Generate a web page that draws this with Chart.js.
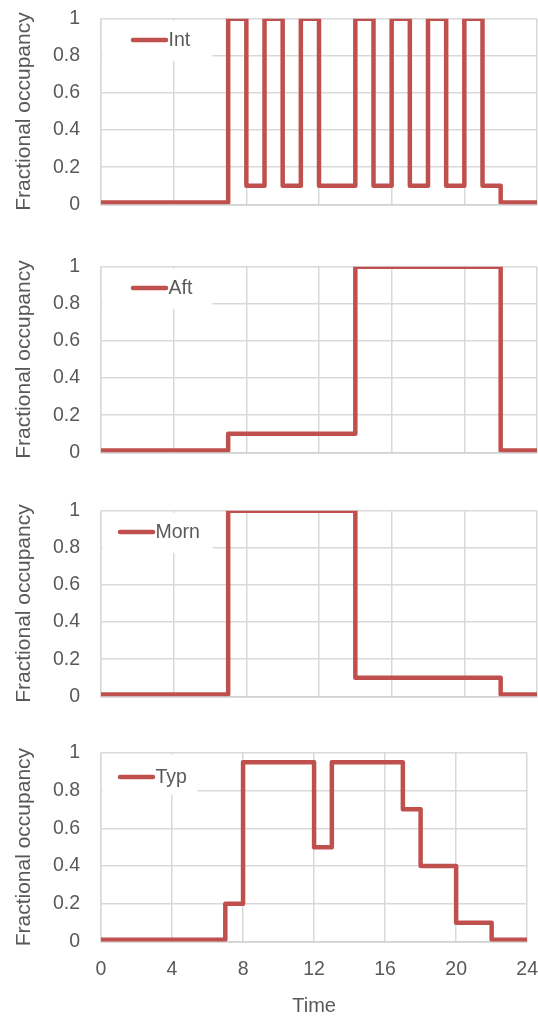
<!DOCTYPE html>
<html><head><meta charset="utf-8">
<script src="https://cdn.jsdelivr.net/npm/chart.js@4/dist/chart.umd.min.js"></script>
<style>
html,body{margin:0;padding:0;background:#fff;}
body{width:538px;height:1018px;position:relative;overflow:hidden;}
.box{position:absolute;left:0;width:538px;}
</style></head><body>
<div class="box" style="top:7px;height:209px"><canvas id="c1"></canvas></div>
<div class="box" style="top:255px;height:209px"><canvas id="c2"></canvas></div>
<div class="box" style="top:499px;height:209px"><canvas id="c3"></canvas></div>
<div class="box" style="top:741px;height:277px"><canvas id="c4"></canvas></div>
<script>
// ---- data ----
const xTicks = [0, 4, 8, 12, 16, 20, 24];
const yTicks = [0, 0.2, 0.4, 0.6, 0.8, 1];
const intTimes  = [0, 7, 8, 9, 10, 11, 12, 14, 15, 16, 17, 18, 19, 20, 21, 22, 24];
const intValues = [0.01, 1, 0.1, 1, 0.1, 1, 0.1, 1, 0.1, 1, 0.1, 1, 0.1, 1, 0.1, 0.01, 0.01];
const aftTimes  = [0, 7, 14, 22, 24];
const aftValues = [0.01, 0.1, 1, 0.01, 0.01];
const mornTimes  = [0, 7, 14, 22, 24];
const mornValues = [0.01, 1, 0.1, 0.01, 0.01];
const typTimes  = [0, 7, 8, 12, 13, 17, 18, 20, 22, 24];
const typValues = [0.01, 0.2, 0.95, 0.5, 0.95, 0.7, 0.4, 0.1, 0.01, 0.01];
const seriesNames = ['Int', 'Aft', 'Morn', 'Typ'];
const yTitle = 'Fractional occupancy';
const xTitle = 'Time';

const FONT = '"Liberation Sans", Arial, sans-serif';
const TXT = '#595959';
const RED = '#c0504d';
const GRID = '#d9d9d9';
const NONE = 'rgba(0,0,0,0)';

const boxLegend = {
  id: 'boxLegend',
  beforeDatasetsDraw(chart, args, o) {
    const {ctx, chartArea: a} = chart;
    ctx.save();
    ctx.fillStyle = '#ffffff';
    ctx.fillRect(a.left + 1.5, a.top + 2, o.boxW, 40);
    ctx.restore();
  },
  afterDatasetsDraw(chart, args, o) {
    const {ctx, chartArea: a} = chart;
    const ds = chart.data.datasets[0];
    const y = a.top + o.dy;
    const x1 = a.left + o.dx, x2 = x1 + 33;
    ctx.save();
    ctx.strokeStyle = ds.borderColor;
    ctx.lineWidth = 4.5;
    ctx.lineCap = 'round';
    ctx.beginPath(); ctx.moveTo(x1, y); ctx.lineTo(x2, y); ctx.stroke();
    ctx.font = '19.5px ' + FONT;
    ctx.fillStyle = TXT;
    ctx.textBaseline = 'middle';
    ctx.textAlign = 'left';
    ctx.fillText(ds.label, x2 + 2.5, y + 1);
    ctx.restore();
  }
};

function makeChart(id, name, times, values, bottom, leg) {
  const pts = times.map((t, i) => ({x: t, y: values[i]}));
  new Chart(document.getElementById(id), {
    type: 'line',
    data: { datasets: [{
      label: name, data: pts, stepped: 'before',
      borderColor: RED, borderWidth: 4.5, pointRadius: 0,
      borderJoinStyle: 'round', fill: false
    }]},
    options: {
      responsive: true, maintainAspectRatio: false, animation: false,
      layout: { padding: bottom ? {left: 0, right: 0, top: 0, bottom: 0} : {left: 0, right: 1, top: 0, bottom: 0} },
      plugins: { legend: {display: false}, tooltip: {enabled: false}, boxLegend: leg },
      scales: {
        x: {
          type: 'linear', min: 0, max: 24,
          afterBuildTicks: s => { s.ticks = xTicks.map(v => ({value: v})); },
          grid: { color: GRID, lineWidth: 1.5, drawTicks: bottom, tickLength: 16, tickColor: NONE },
          border: { color: '#d0d0d0', width: 1.5 },
          ticks: { display: bottom, padding: 0, color: TXT, font: {family: FONT, size: 19.5}, maxRotation: 0 },
          title: { display: bottom, text: xTitle, color: TXT, font: {family: FONT, size: 20}, padding: {top: 13, bottom: 0} }
        },
        y: {
          min: 0, max: 1,
          afterBuildTicks: s => { s.ticks = yTicks.map(v => ({value: v})); },
          grid: { color: GRID, lineWidth: 1.5, drawTicks: true, tickLength: 21, tickColor: NONE },
          border: { color: GRID, width: 1.5 },
          ticks: { padding: 0, color: TXT, font: {family: FONT, size: 19.5}, callback: v => String(Math.round(v * 10) / 10) },
          title: { display: true, text: yTitle, color: TXT, font: {family: FONT, size: 21}, padding: {top: 11.4, bottom: 16.3} }
        }
      }
    },
    plugins: [boxLegend]
  });
}

makeChart('c1', seriesNames[0], intTimes, intValues, false, {dx: 32, dy: 21.3, boxW: 110});
makeChart('c2', seriesNames[1], aftTimes, aftValues, false, {dx: 32, dy: 21.3, boxW: 110});
makeChart('c3', seriesNames[2], mornTimes, mornValues, false, {dx: 19, dy: 21.3, boxW: 110});
makeChart('c4', seriesNames[3], typTimes, typValues, true, {dx: 19, dy: 24.3, boxW: 95});
</script>
</body></html>
